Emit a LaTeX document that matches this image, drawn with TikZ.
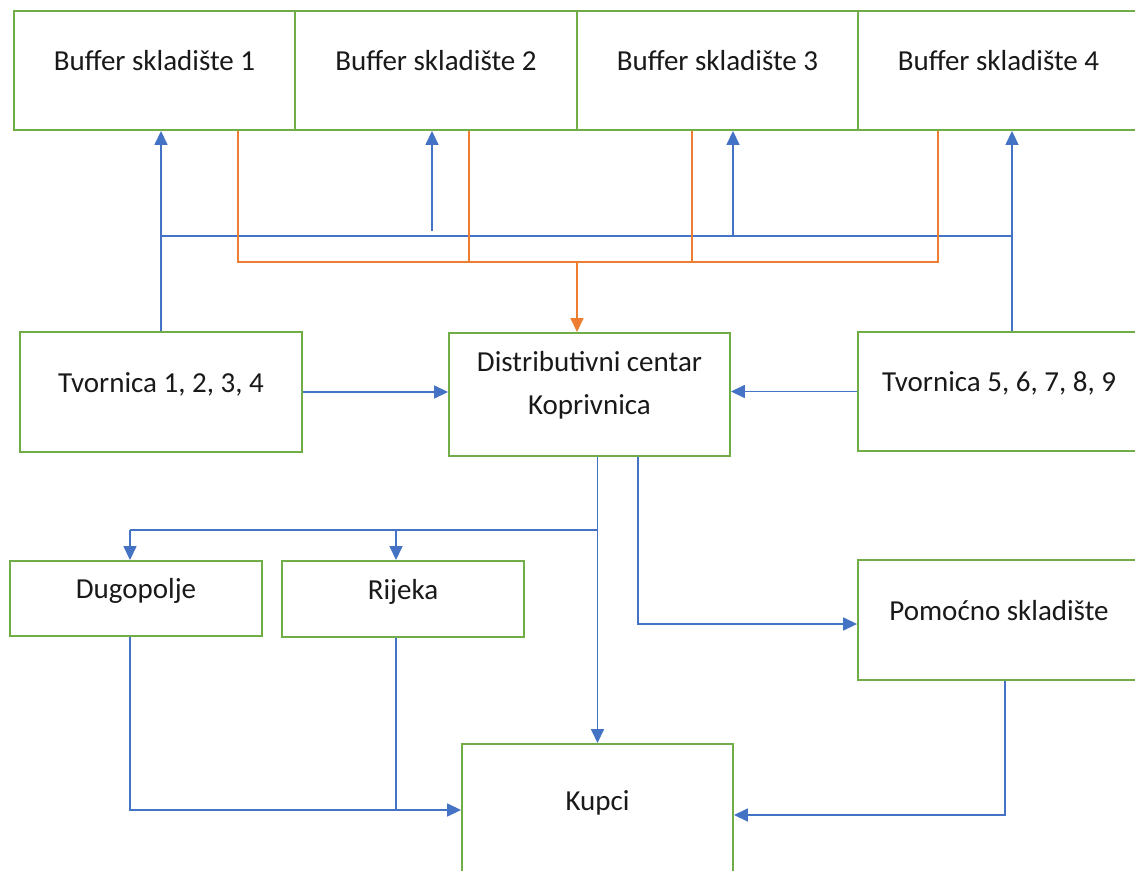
\documentclass[tikz,border=0pt]{standalone}
\usepackage{fontspec}
\setmainfont{Carlito}
\usetikzlibrary{arrows.meta}
\definecolor{boxgreen}{HTML}{70AD47}
\definecolor{flowblue}{HTML}{4472C4}
\definecolor{floworange}{HTML}{ED7D31}

\begin{document}
\begin{tikzpicture}[
  x=0.02cm, y=-0.02cm,
  box/.style={draw=boxgreen, line width=1.1pt, inner sep=0, align=center,
    text height=0.45cm, text depth=0.45cm, text=black!90,
    font=\fontsize{16.5}{24}\selectfont},
  flow/.style={draw=flowblue, line width=0.9pt},
  back/.style={draw=floworange, line width=0.9pt},
  >={Triangle[length=2.8mm, width=2.6mm]}
]
\useasboundingbox (0,0) rectangle (1135,871);

% buffer warehouses
\node[box, minimum width=5.62cm, minimum height=2.38cm] (b1) at (154.5,70.5) {Buffer skladište 1};
\node[box, minimum width=5.64cm, minimum height=2.38cm] (b2) at (436,70.5) {Buffer skladište 2};
\node[box, minimum width=5.62cm, minimum height=2.38cm] (b3) at (717.5,70.5) {Buffer skladište 3};
\node[box, minimum width=5.62cm, minimum height=2.38cm] (b4) at (998.5,70.5) {Buffer skladište 4};

% factories and distribution centre
\node[box, minimum width=5.64cm, minimum height=2.40cm] (t1) at (161,392) {Tvornica 1, 2, 3, 4};
\node[box, minimum width=5.62cm, minimum height=2.46cm, text height=, text depth=0.46cm] (dc) at (589.5,394.5) {Distributivni centar\\Koprivnica};
\node[box, minimum width=5.64cm, minimum height=2.38cm] (t5) at (999,391.5) {Tvornica 5, 6, 7, 8, 9};

% lower row
\node[box, minimum width=5.04cm, minimum height=1.50cm] (dg) at (136,598.5) {Dugopolje};
\node[box, minimum width=4.84cm, minimum height=1.52cm] (rj) at (403,599) {Rijeka};
\node[box, minimum width=5.64cm, minimum height=2.40cm] (pom) at (999,620) {Pomoćno skladište};
\node[box, minimum width=5.42cm, minimum height=2.64cm] (kupci) at (597.5,810) {Kupci};

% blue bus up to buffers
\coordinate (busB) at (0,236);
\coordinate (t5up) at ([xshift=0.26cm]t5.north);
\coordinate (up2) at (432,231);
\coordinate (up3) at (733,236);
\draw[flow,->] (t1.north) -- (t1.north |- b1.south);
\draw[flow,->] (t5up) -- (t5up |- b4.south);
\draw[flow] (t1.north |- busB) -- (t5up |- busB);
\draw[flow,->] (up2) -- (up2 |- b2.south);
\draw[flow,->] (up3) -- (up3 |- b3.south);

% orange bus back to distribution centre
\coordinate (o1) at (238,262);
\coordinate (o2) at (469,262);
\coordinate (o3) at (692,262);
\coordinate (o4) at (938,262);
\coordinate (oc) at (577,262);
\draw[back] (o1 |- b1.south) -- (o1) -- (o4) -- (o4 |- b4.south);
\draw[back] (o2 |- b2.south) -- (o2);
\draw[back] (o3 |- b3.south) -- (o3);
\draw[back,->] (oc) -- (oc |- dc.north);

% factories into distribution centre
\draw[flow,->] (t1.east) -- (t1.east -| dc.west);
\draw[flow,->] (t5.west) -- (t5.west -| dc.east);

% distribution centre outwards
\coordinate (split) at (597,530);
\coordinate (dgin) at (130,530);
\coordinate (rjin) at (396,530);
\coordinate (pomout) at ([xshift=0.97cm]dc.south);
\draw[flow,->] (kupci.north |- dc.south) -- (kupci.north);
\draw[flow] (split) -- (dgin);
\draw[flow,->] (dgin) -- (dgin |- dg.north);
\draw[flow,->] (rjin) -- (rjin |- rj.north);
\draw[flow,->] (pomout) |- ([yshift=-0.08cm]pom.west);

% into customers
\coordinate (dgout) at ([xshift=-0.12cm]dg.south);
\coordinate (rjout) at ([xshift=-0.14cm]rj.south);
\coordinate (pomdown) at ([xshift=0.12cm]pom.south);
\draw[flow,->] (dgout) |- (kupci.west);
\draw[flow] (rjout) -- (rjout |- kupci.west);
\draw[flow,->] (pomdown) |- ([yshift=-0.1cm]kupci.east);
\end{tikzpicture}
\end{document}
